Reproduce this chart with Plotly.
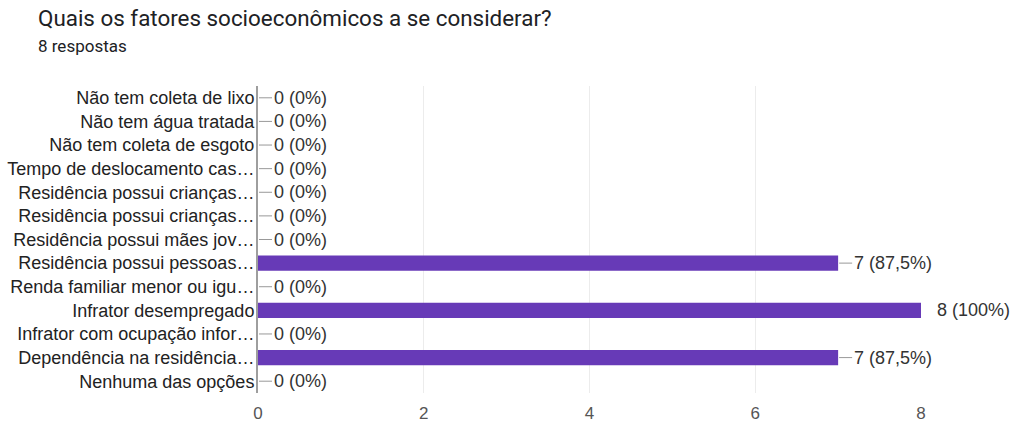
import plotly.graph_objects as go

categories = [
    "Não tem coleta de lixo",
    "Não tem água tratada",
    "Não tem coleta de esgoto",
    "Tempo de deslocamento cas…",
    "Residência possui crianças…",
    "Residência possui crianças…",
    "Residência possui mães jov…",
    "Residência possui pessoas…",
    "Renda familiar menor ou igu…",
    "Infrator desempregado",
    "Infrator com ocupação infor…",
    "Dependência na residência…",
    "Nenhuma das opções",
]
values = [0, 0, 0, 0, 0, 0, 0, 7, 0, 8, 0, 7, 0]
labels = ["0 (0%)"] * 7 + ["7 (87,5%)", "0 (0%)", "8 (100%)", "0 (0%)", "7 (87,5%)", "0 (0%)"]
x_ticks = [0, 2, 4, 6, 8]
total = 8

ypos = list(range(len(categories)))

ML, MR, MT, MB = 258, 95, 86, 32
W, H = 1016, 425
plot_h = H - MT - MB
plot_w = W - ML - MR

def px_to_paper_x(px):
    return (px - ML) / plot_w

def px_to_paper_y(py):
    return (H - MB - py) / plot_h

FONT = "Liberation Sans, Arial"

fig = go.Figure()
fig.add_trace(go.Bar(
    x=values, y=ypos, orientation="h",
    marker=dict(color="#673ab7", line=dict(width=0)),
    width=0.65, hoverinfo="skip",
))

shapes = []
annotations = []
for i, (v, lab) in enumerate(zip(values, labels)):
    if v < total:
        shapes.append(dict(type="line", xref="x", yref="y", xsizemode="pixel",
                           xanchor=v, x0=1, x1=14, y0=i, y1=i,
                           line=dict(color="#999999", width=1)))
    annotations.append(dict(x=v, y=i, xref="x", yref="y", text=lab,
                            showarrow=False, xanchor="left", xshift=14,
                            font=dict(family=FONT, size=18, color="#333333")))

annotations.append(dict(x=px_to_paper_x(36), y=px_to_paper_y(18), xref="paper", yref="paper",
                        xanchor="left", yanchor="middle",
                        text="Quais os fatores socioeconômicos a se considerar?", showarrow=False,
                        font=dict(family="Roboto", size=22.4, color="#202124")))
annotations.append(dict(x=px_to_paper_x(36), y=px_to_paper_y(46), xref="paper", yref="paper",
                        xanchor="left", yanchor="middle", text="8 respostas", showarrow=False,
                        font=dict(family="Roboto", size=17, color="#202124")))

fig.update_layout(
    width=W, height=H,
    margin=dict(l=ML, r=MR, t=MT, b=MB, autoexpand=False),
    paper_bgcolor="white", plot_bgcolor="white",
    showlegend=False,
    shapes=shapes,
    annotations=annotations,
    xaxis=dict(range=[0, total], tickvals=x_ticks, showgrid=True, gridcolor="#ececec",
               gridwidth=1, zeroline=False, showline=False, ticks="", ticklabelstandoff=8,
               tickfont=dict(family=FONT, size=17, color="#555555"),
               fixedrange=True, automargin=False),
    yaxis=dict(tickvals=ypos, ticktext=categories, autorange=False, range=[12.5, -0.5],
               showgrid=False, zeroline=False, showline=True, linecolor="#9e9e9e", linewidth=2,
               ticks="", ticklabelstandoff=-2,
               tickfont=dict(family=FONT, size=18, color="#222222"),
               fixedrange=True, automargin=False),
)

fig.write_html("out.html")
